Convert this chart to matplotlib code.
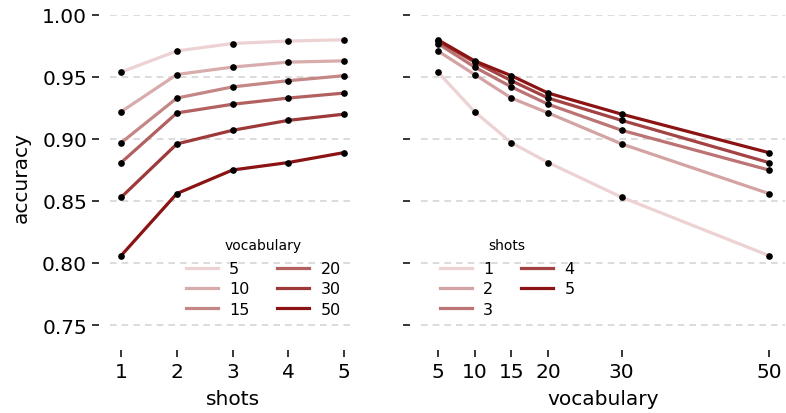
import numpy as np
import matplotlib
matplotlib.use("Agg")
import matplotlib.pyplot as plt

shots = [1, 2, 3, 4, 5]
vocab = [5, 10, 15, 20, 30, 50]

# accuracy[vocab][shots]
acc_v5 = [0.954, 0.971, 0.977, 0.979, 0.980]
acc_v10 = [0.922, 0.952, 0.958, 0.962, 0.963]
acc_v15 = [0.897, 0.933, 0.942, 0.947, 0.951]
acc_v20 = [0.881, 0.921, 0.928, 0.933, 0.937]
acc_v30 = [0.853, 0.896, 0.907, 0.915, 0.920]
acc_v50 = [0.806, 0.856, 0.875, 0.881, 0.889]

acc = np.array([acc_v5, acc_v10, acc_v15, acc_v20, acc_v30, acc_v50])

light = np.array([0.925, 0.825, 0.825])
dark = np.array([0.545, 0.075, 0.075])


def ramp(n):
    return [tuple(light + (dark - light) * t) for t in np.linspace(0, 1, n)]


fig = plt.figure(figsize=(7.86, 4.14), dpi=100)
ax1 = fig.add_axes([0.140, 0.1826, 0.3117, 0.7788])
ax2 = fig.add_axes([0.536, 0.1826, 0.4632, 0.7788], sharey=ax1)

# left: accuracy vs shots, one line per vocabulary size
for v, row, c in zip(vocab, acc, ramp(len(vocab))):
    ax1.plot(shots, row, color=c, lw=2.3, label=str(v), zorder=2)
    ax1.plot(shots, row, 'o', color='black', ms=3.8, zorder=3)

# right: accuracy vs vocabulary, one line per shot count
for j, (s, c) in enumerate(zip(shots, ramp(len(shots)))):
    ax2.plot(vocab, acc[:, j], color=c, lw=2.3, label=str(s), zorder=2)
    ax2.plot(vocab, acc[:, j], 'o', color='black', ms=3.8, zorder=3)

ax1.set_ylim(0.74, 1.0)
ax1.set_yticks([0.75, 0.80, 0.85, 0.90, 0.95, 1.00])
ax1.set_xticks(shots)
ax2.set_xticks(vocab)
ax1.set_xlabel('shots', fontsize=14.5, labelpad=6)
ax2.set_xlabel('vocabulary', fontsize=14.5, labelpad=6)
ax1.set_ylabel('accuracy', fontsize=14.5, labelpad=8)

for ax in (ax1, ax2):
    for side in ['top', 'right', 'left', 'bottom']:
        ax.spines[side].set_visible(False)
    ax.spines['left'].set_position(('outward', 8))
    ax.spines['bottom'].set_position(('outward', 9))
    ax.grid(axis='y', ls=(0, (4, 3)), color='#d6d6d6', lw=1.2, zorder=0)
    ax.tick_params(labelsize=14.5, length=5, width=1.1)
    ax.set_axisbelow(True)
plt.setp(ax2.get_yticklabels(), visible=False)

leg_kw = dict(ncol=2, frameon=False, fontsize=11.5, title_fontsize=10,
              loc='lower left', borderaxespad=0, labelspacing=0.32,
              handlelength=2.0, handletextpad=0.7, columnspacing=1.75)
leg1 = ax1.legend(title='vocabulary', bbox_to_anchor=(0.284, 0.045), **leg_kw)
leg2 = ax2.legend(title='shots', bbox_to_anchor=(0.0335, 0.045), **leg_kw)
for leg in (leg1, leg2):
    leg._legend_box.sep = 7  # a bit more room under the title

fig.savefig('out.png', dpi=100)
